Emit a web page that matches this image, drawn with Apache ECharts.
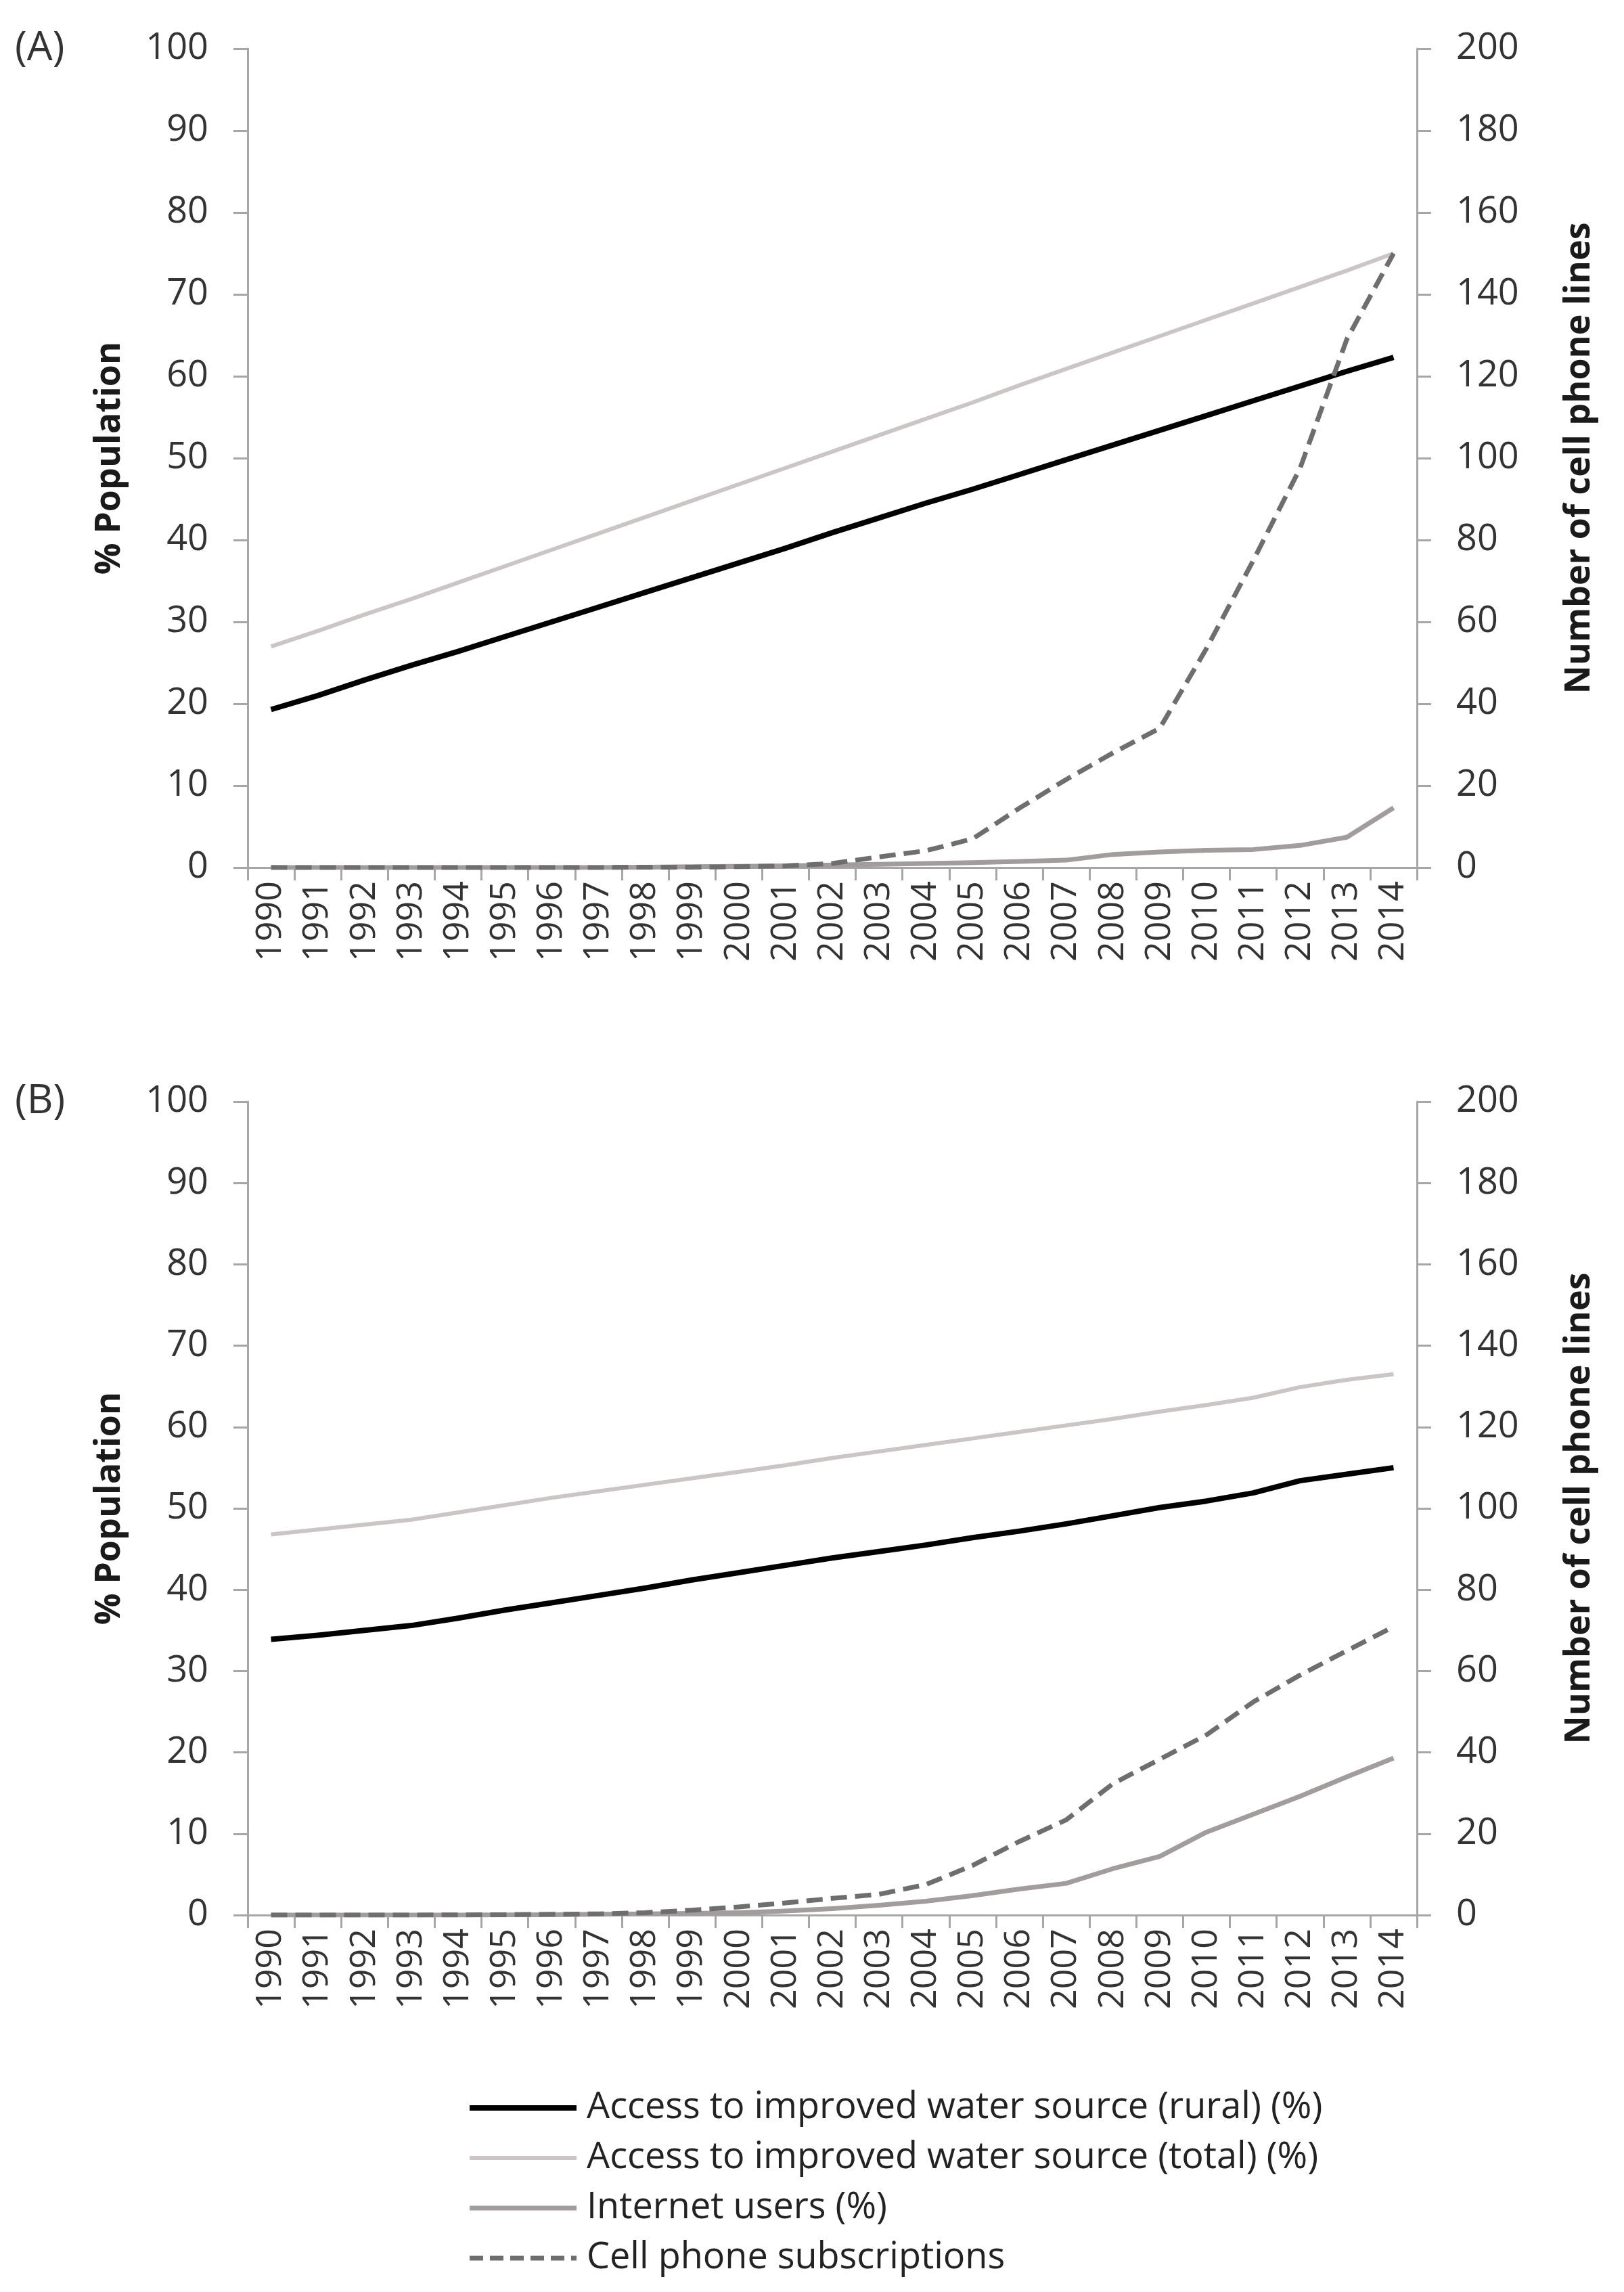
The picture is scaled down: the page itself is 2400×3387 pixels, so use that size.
<!DOCTYPE html>
<html>
<head>
<meta charset="utf-8">
<script src="https://cdn.jsdelivr.net/npm/echarts@6/dist/echarts.min.js"></script>
<style>
html,body{margin:0;padding:0;background:#fff;}
#chart{width:2400px;height:3387px;}
</style>
</head>
<body>
<div id="chart"></div>
<script>
const years = ['1990','1991','1992','1993','1994','1995','1996','1997','1998','1999','2000','2001','2002','2003','2004','2005','2006','2007','2008','2009','2010','2011','2012','2013','2014'];
const leftTicks = [0,10,20,30,40,50,60,70,80,90,100];
const rightTicks = [0,20,40,60,80,100,120,140,160,180,200];
const seriesNames = ['Access to improved water source (rural) (%)','Access to improved water source (total) (%)','Internet users (%)','Cell phone subscriptions'];

// Panel A
const ruralA = [19.3,21.0,22.9,24.7,26.4,28.2,30.0,31.8,33.6,35.4,37.2,39.0,40.9,42.7,44.5,46.2,48.0,49.8,51.6,53.4,55.2,57.0,58.8,60.6,62.3];
const totalA = [27.0,28.9,30.9,32.8,34.8,36.8,38.8,40.8,42.8,44.8,46.8,48.8,50.8,52.8,54.8,56.8,58.9,60.9,62.9,64.9,66.9,68.9,70.9,72.9,75.0];
const internetA = [0,0,0,0,0,0,0,0,0.05,0.1,0.15,0.2,0.3,0.4,0.5,0.6,0.75,0.9,1.6,1.9,2.1,2.2,2.7,3.7,7.3];
const cellA = [0,0,0,0,0,0,0,0,0.1,0.1,0.2,0.4,1.0,2.6,4.1,7.0,14.5,21.5,28.0,34.0,53.5,75.0,97.5,129.0,150.0];

// Panel B
const ruralB = [33.9,34.4,35.0,35.6,36.5,37.5,38.4,39.3,40.2,41.2,42.1,43.0,43.9,44.7,45.5,46.4,47.2,48.1,49.1,50.1,50.9,51.9,53.4,54.2,55.0];
const totalB = [46.8,47.4,48.0,48.6,49.5,50.4,51.3,52.1,52.9,53.7,54.5,55.3,56.2,57.0,57.8,58.6,59.4,60.2,61.0,61.9,62.7,63.6,64.9,65.8,66.5];
const internetB = [0,0,0,0,0,0.02,0.05,0.1,0.15,0.2,0.3,0.5,0.8,1.2,1.7,2.4,3.2,3.9,5.7,7.2,10.2,12.4,14.6,17.0,19.3];
const cellB = [0,0,0,0,0.05,0.1,0.2,0.3,0.6,1.2,2.0,3.0,4.1,5.1,7.5,12.2,18.1,23.4,32.3,38.3,44.3,52.4,59.0,65.0,70.9];

const FONT = '"Open Sans", sans-serif';
const axisColor = '#a6a6a6';
const labelColor = '#333333';

const styles = [
  {color:'#000000', width:8, type:'solid'},
  {color:'#cbc5c5', width:6, type:'solid'},
  {color:'#a29c9c', width:7, type:'solid'},
  {color:'#6e6e6e', width:7, type:[24,12]}
];

function xAxis(gi){
  return {
    type:'category', gridIndex:gi, data:years, boundaryGap:true,
    axisLine:{show:true, lineStyle:{color:axisColor, width:3}},
    axisTick:{show:true, length:19, interval:0, lineStyle:{color:axisColor, width:3}},
    axisLabel:{interval:0, rotate:90, margin:20, fontSize:52, fontFamily:FONT, color:labelColor, hideOverlap:false},
    splitLine:{show:false}
  };
}
function yLeft(gi){
  return {
    type:'value', gridIndex:gi, position:'left', min:leftTicks[0], max:leftTicks[leftTicks.length-1], interval:leftTicks[1]-leftTicks[0],
    name:'% Population', nameLocation:'middle', nameGap:178, nameRotate:90,
    nameTextStyle:{fontSize:52, fontWeight:'bold', fontFamily:FONT, color:'#1a1a1a'},
    axisLine:{show:true, lineStyle:{color:axisColor, width:3}},
    axisTick:{show:true, length:21, lineStyle:{color:axisColor, width:3}},
    axisLabel:{margin:58, fontSize:54, fontFamily:FONT, color:labelColor},
    splitLine:{show:false}
  };
}
function yRight(gi){
  return {
    type:'value', gridIndex:gi, position:'right', min:rightTicks[0], max:rightTicks[rightTicks.length-1], interval:rightTicks[1]-rightTicks[0],
    name:'Number of cell phone lines', nameLocation:'middle', nameGap:214, nameRotate:90,
    nameTextStyle:{fontSize:52, fontWeight:'bold', fontFamily:FONT, color:'#1a1a1a'},
    axisLine:{show:true, lineStyle:{color:axisColor, width:3}},
    axisTick:{show:true, length:21, lineStyle:{color:axisColor, width:3}},
    axisLabel:{margin:58, fontSize:54, fontFamily:FONT, color:labelColor},
    splitLine:{show:false}
  };
}
function mk(name, data, xi, yi, st, z){
  return {name, type:'line', data, xAxisIndex:xi, yAxisIndex:yi, symbol:'none', showSymbol:false,
    lineStyle:{color:st.color, width:st.width, type:st.type, cap:'butt', join:'round'}, itemStyle:{color:st.color},
    z:z, animation:false};
}

const panels = [[ruralA,totalA,internetA,cellA],[ruralB,totalB,internetB,cellB]];
const series = [];
panels.forEach((p,gi)=>{
  p.forEach((d,k)=>{
    series.push(mk(seriesNames[k], d, gi, k===3 ? gi*2+1 : gi*2, styles[k], 2+k));
  });
});

const legendData = seriesNames.map((n,k)=>({
  name:n,
  itemStyle:{opacity:0},
  lineStyle:{color:styles[k].color, width:styles[k].width, type:k===3 ? [20,10] : 'solid', cap:'butt'}
}));

const chart = echarts.init(document.getElementById('chart'), null, {renderer:'canvas'});
chart.setOption({
  animation:false,
  backgroundColor:'#ffffff',
  grid:[
    {left:366, right:306, top:72, height:1210, outerBoundsMode:'none', containLabel:false},
    {left:366, right:306, top:1628, height:1202, outerBoundsMode:'none', containLabel:false}
  ],
  xAxis:[xAxis(0), xAxis(1)],
  yAxis:[yLeft(0), yRight(0), yLeft(1), yRight(1)],
  graphic:[
    {type:'text', left:22, top:42, style:{text:'(A)', fontSize:60, fontFamily:FONT, fill:labelColor}},
    {type:'text', left:22, top:1598, style:{text:'(B)', fontSize:60, fontFamily:FONT, fill:labelColor}}
  ],
  legend:{
    orient:'vertical', left:685, top:3079, itemWidth:158, itemHeight:30, itemGap:12,
    data:legendData,
    itemStyle:{opacity:0},
    textStyle:{fontSize:54, fontFamily:FONT, color:'#222222', lineHeight:62, padding:[0,0,0,10]},
    selectedMode:false
  },
  series:series
});
</script>
</body>
</html>
